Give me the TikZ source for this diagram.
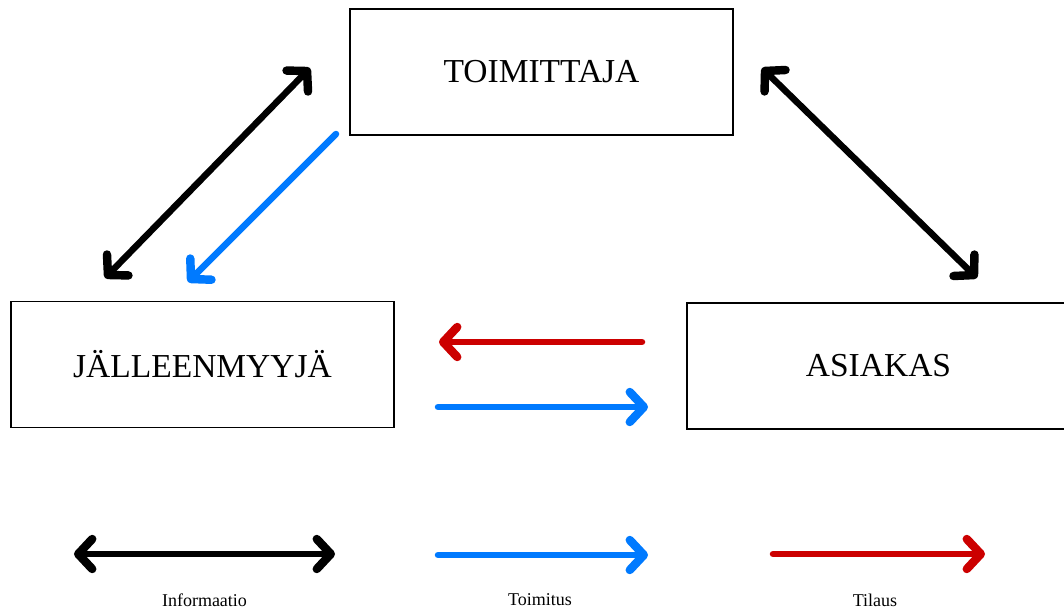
\documentclass[tikz,border=0pt]{standalone}
\usepackage{fontspec}
\setmainfont{Liberation Serif}
\usepackage{tikz}
\usetikzlibrary{arrows.meta}
\definecolor{toimblue}{RGB}{0,122,255}
\definecolor{tilred}{RGB}{204,0,0}

\begin{document}
\begin{tikzpicture}[x=1pt,y=-1pt,
	box/.style={draw,line width=1.8pt,minimum width=383pt,minimum height=126pt,inner sep=0pt,font=\fontsize{33.5}{40}\selectfont},
	lbl/.style={font=\fontsize{18}{21}\selectfont},
	>={Straight Barb[length=14pt,width=30pt,line width=0pt 1.3,round]},
	flow/.style={line width=6.5pt,line cap=round}]
	\useasboundingbox (0,0) rectangle (1064,610);
	\clip (0,0) rectangle (1064,610);
	% Knoten
		\node (toimittaja) at (541.5,72) [box] {TOIMITTAJA};
		\node (jalleen) at (202.5,364.5) [box] {JÄLLEENMYYJÄ};
		\node (asiakas) at (878.5,366) [box] {ASIAKAS};
		\node (linfo) at (204.5,600) [lbl] {Informaatio};
		\node (ltoim) at (540,600) [lbl] {Toimitus};
		\node (ltil) at (875,600) [lbl] {Tilaus};
	% Kantenpunkte
		\coordinate (a1) at (105,278);  \coordinate (a2) at (310,68);
		\coordinate (b1) at (336,134);  \coordinate (b2) at (188,282);
		\coordinate (c1) at (762,68);   \coordinate (c2) at (977,278);
		\coordinate (d1) at (642,342);  \coordinate (d2) at (439,342);
		\coordinate (e1) at (438,407);  \coordinate (e2) at (648,407);
		\coordinate (f1) at (74,554);   \coordinate (f2) at (335,554);
		\coordinate (g1) at (438,555);  \coordinate (g2) at (648,555);
		\coordinate (h1) at (773,554);  \coordinate (h2) at (985,554);
	% Kanten
		\draw[flow,<->] (a1) -- (a2);
		\draw[flow,->,toimblue] (b1) -- (b2);
		\draw[flow,<->] (c1) -- (c2);
		\draw[flow,->,tilred] (d1) -- (d2);
		\draw[flow,->,toimblue] (e1) -- (e2);
	% Legende
		\draw[flow,<->] (f1) -- (f2);
		\draw[flow,->,toimblue] (g1) -- (g2);
		\draw[flow,->,tilred] (h1) -- (h2);
\end{tikzpicture}
\end{document}
